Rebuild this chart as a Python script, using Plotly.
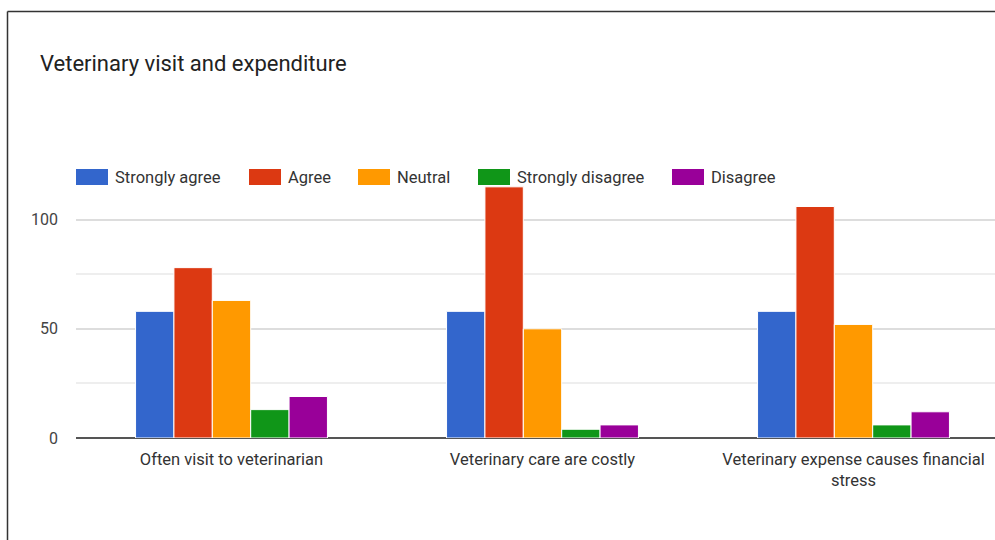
import plotly.graph_objects as go

# Survey responses per statement
statements = [
    "Often visit to veterinarian",
    "Veterinary care are costly",
    "Veterinary expense causes financial<br>stress",
]
responses = ["Strongly agree", "Agree", "Neutral", "Strongly disagree", "Disagree"]
strongly_agree = [58, 58, 58]
agree = [78, 115, 106]
neutral = [63, 50, 52]
strongly_disagree = [13, 4, 6]
disagree = [19, 6, 12]
series = [strongly_agree, agree, neutral, strongly_disagree, disagree]
colors = ["#3366cc", "#dc3912", "#ff9900", "#109618", "#990099"]
y_ticks = [0, 50, 100]
y_minor = [25, 75, 125]

W, H = 995, 540
ML, MR, MT, MB = 76, 0, 165, 102
PW, PH = W - ML - MR, H - MT - MB
GROUP_PX = 311  # pixel width of one category slot


def px_x(px):
    return (px - ML) / PW


def px_y(py):
    return (H - MB - py) / PH


fig = go.Figure()
for name, vals, col in zip(responses, series, colors):
    fig.add_trace(go.Bar(
        x=statements, y=vals, name=name,
        marker=dict(color=col, line=dict(color="white", width=1)),
    ))

# Legend row: swatch + label, laid out along the top of the plot
legend_left = [76, 249, 358, 478, 672]
shapes = []
annotations = []
for left, name, col in zip(legend_left, responses, colors):
    shapes.append(dict(
        type="rect", xref="paper", yref="paper",
        x0=px_x(left), x1=px_x(left + 32), y0=px_y(185), y1=px_y(169),
        fillcolor=col, line=dict(width=0), layer="above",
    ))
    annotations.append(dict(
        xref="paper", yref="paper", x=px_x(left + 37), y=px_y(177.5),
        xanchor="left", yanchor="middle", showarrow=False, text=name,
        font=dict(family="Roboto", size=16.5, color="#333333"),
    ))

# Frame lines along the left and top edges
shapes.append(dict(type="line", xref="paper", yref="paper",
                   x0=px_x(7.5), x1=px_x(7.5), y0=px_y(11.5), y1=px_y(545),
                   line=dict(color="#333333", width=1.5)))
shapes.append(dict(type="line", xref="paper", yref="paper",
                   x0=px_x(7.5), x1=px_x(1000), y0=px_y(11.5), y1=px_y(11.5),
                   line=dict(color="#333333", width=1.5)))

fig.update_layout(
    width=W, height=H, autosize=False,
    margin=dict(l=ML, r=MR, t=MT, b=MB),
    paper_bgcolor="white", plot_bgcolor="white",
    showlegend=False,
    barmode="group", bargap=0.383, bargroupgap=0,
    title=dict(
        text="Veterinary visit and expenditure",
        xref="container", yref="container",
        x=40 / W, xanchor="left", y=1 - 63 / H, yanchor="middle",
        font=dict(family="Roboto", size=22, color="#222222"),
    ),
    xaxis=dict(
        range=[-0.5, -0.5 + PW / GROUP_PX],
        showgrid=False, showline=False, zeroline=False, ticks="",
        tickfont=dict(family="Roboto", size=16.5, color="#333333"),
        ticklabelstandoff=9,
    ),
    yaxis=dict(
        range=[0, 125], tickmode="array", tickvals=y_ticks,
        showgrid=True, gridcolor="#dddddd", gridwidth=1.5,
        zeroline=True, zerolinecolor="#555555", zerolinewidth=2,
        showline=False, ticks="",
        tickfont=dict(family="Roboto", size=16, color="#444444"),
        ticklabelstandoff=17,
        minor=dict(tickmode="array", tickvals=y_minor, showgrid=True,
                   gridcolor="#eeeeee", gridwidth=1.5, ticks=""),
    ),
    shapes=shapes,
    annotations=annotations,
)

fig.write_html("out.html")
